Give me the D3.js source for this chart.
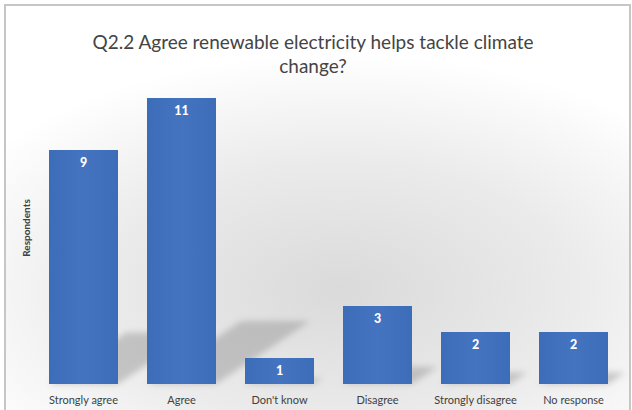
<!DOCTYPE html>
<html><head><meta charset="utf-8">
<script src="https://cdn.jsdelivr.net/npm/d3@7"></script>
<style>html,body{margin:0;padding:0;background:#fff;}svg{display:block;}</style>
</head><body>
<script>
const categories = ["Strongly agree","Agree","Don't know","Disagree","Strongly disagree","No response"];
const values = [9, 11, 1, 3, 2, 2];
const titleLines = ["Q2.2 Agree renewable electricity helps tackle climate","change?"];
const yLabel = "Respondents";

const W = 632, H = 410;
const svg = d3.select("body").append("svg").attr("width", W).attr("height", H);
const defs = svg.append("defs");
const rg = defs.append("radialGradient").attr("id","bg").attr("gradientUnits","userSpaceOnUse")
  .attr("cx",340).attr("cy",290).attr("r",430)
  .attr("gradientTransform","translate(340,290) scale(1,0.55) translate(-340,-290)");
rg.append("stop").attr("offset","0%").attr("stop-color","#dadada");
rg.append("stop").attr("offset","55%").attr("stop-color","#ebebeb");
rg.append("stop").attr("offset","100%").attr("stop-color","#ffffff");
const bf = defs.append("filter").attr("id","blur").attr("x","-20%").attr("y","-20%").attr("width","140%").attr("height","140%");
bf.append("feGaussianBlur").attr("stdDeviation",3);
const bg2 = defs.append("linearGradient").attr("id","barg").attr("x1",0).attr("x2",1).attr("y1",0).attr("y2",0);
bg2.append("stop").attr("offset","0%").attr("stop-color","#3d6db8");
bg2.append("stop").attr("offset","50%").attr("stop-color","#4473c0");
bg2.append("stop").attr("offset","100%").attr("stop-color","#3d6db8");

svg.append("rect").attr("x",5).attr("y",5).attr("width",625).attr("height",410)
  .attr("fill","url(#bg)").attr("stroke","#c6c6c6").attr("stroke-width",2);

const x = d3.scaleBand().domain(categories).range([34.5, 622.5]).paddingInner(0.296).paddingOuter(0.148);
const y = d3.scaleLinear().domain([0, 11]).range([384, 98]);

// shadows
const shadowG = svg.append("g").attr("filter","url(#blur)").attr("opacity",0.5);
categories.forEach((c,i)=>{
  const x0 = x(c), x1 = x0 + x.bandwidth();
  const h = (y(0) - y(values[i])) * 0.22;
  const dx = h * 1.5;
  shadowG.append("path")
    .attr("d", `M${x0},${y(0)} L${x1},${y(0)} L${x1+dx},${y(0)-h} L${x0+dx},${y(0)-h} Z`)
    .attr("fill","#9a9a9a");
});

svg.append("g").selectAll("rect").data(values).join("rect")
  .attr("x",(d,i)=>x(categories[i])).attr("y",d=>y(d))
  .attr("width",x.bandwidth()).attr("height",d=>y(0)-y(d))
  .attr("fill","url(#barg)");

svg.append("g").selectAll("text").data(values).join("text")
  .attr("x",(d,i)=>x(categories[i])+x.bandwidth()/2).attr("y",d=>y(d)+17)
  .attr("text-anchor","middle").attr("fill","#ffffff")
  .attr("font-family","Lato, 'Open Sans', sans-serif").attr("font-weight","900").attr("font-size",12.5)
  .text(d=>d);

const xAxis = svg.append("g").attr("transform",`translate(0,${y(0)})`)
  .call(d3.axisBottom(x).tickSize(0).tickPadding(12));
xAxis.select(".domain").remove();
xAxis.selectAll("text").attr("font-family","Lato, 'Open Sans', sans-serif").attr("font-size",11).attr("fill","#404040");

svg.append("text").attr("transform","translate(30,228) rotate(-90)")
  .attr("text-anchor","middle").attr("font-family","Lato, 'Open Sans', sans-serif")
  .attr("font-weight","bold").attr("font-size",10).attr("fill","#404040").text(yLabel);

const t = svg.append("g").attr("font-family","Lato, 'Open Sans', sans-serif").attr("font-size",19).attr("fill","#444444").attr("text-anchor","middle");
titleLines.forEach((s,i)=>{
  t.append("text").attr("x",313).attr("y",49+i*24).text(s);
});
</script>
</body></html>
